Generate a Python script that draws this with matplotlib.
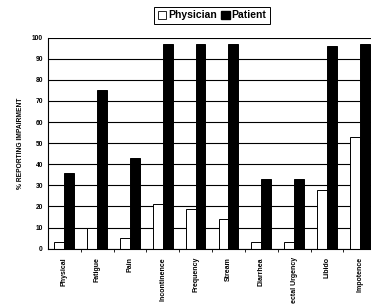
import matplotlib.pyplot as plt
import numpy as np
from matplotlib.patches import Patch

plt.rcParams["font.family"] = ["Liberation Sans", "DejaVu Sans"]

categories = ["Physical", "Fatigue", "Pain", "Incontinence", "Frequency",
              "Stream", "Diarrhea", "Rectal Urgency", "Libido", "Impotence"]
physician = [3, 10, 5, 21, 19, 14, 3, 3, 28, 53]
patient = [36, 75, 43, 97, 97, 97, 33, 33, 96, 97]
yticks = list(range(0, 101, 10))

x = np.arange(len(categories))
w = 0.3

fig = plt.figure(figsize=(3.71, 3.04), dpi=100)
ax = fig.add_axes([0.129, 0.182, 0.885, 0.694])

ax.set_axisbelow(True)
ax.yaxis.grid(True, color="black", linewidth=0.8)
ax.bar(x - w / 2, physician, w, color="white", edgecolor="black", linewidth=0.7)
ax.bar(x + w / 2, patient, w, color="black", edgecolor="black", linewidth=0.7)

ax.set_xlim(-0.5, len(categories) - 0.5)
ax.set_ylim(0, 100)
ax.set_yticks(yticks)
ax.set_yticklabels([str(t) for t in yticks], fontsize=4.8, fontweight="bold")
ax.tick_params(axis="y", length=0, pad=3.5)

ax.set_xticks(x)
ax.set_xticklabels(categories, rotation=90, fontsize=5, fontweight="bold")
ax.tick_params(axis="x", length=0, pad=6)
ax.set_xticks(x + 0.5, minor=True)
ax.tick_params(axis="x", which="minor", length=2, width=0.6)

for s in ["top", "right"]:
    ax.spines[s].set_visible(False)
ax.spines["left"].set_linewidth(0.8)
ax.spines["bottom"].set_linewidth(0.8)

ax.set_ylabel("% REPORTING IMPAIRMENT", fontsize=4.8, fontweight="bold", labelpad=6)

handles = [Patch(facecolor="white", edgecolor="black", linewidth=0.6),
           Patch(facecolor="black", edgecolor="black")]
leg = fig.legend(handles, ["Physician", "Patient"], loc="center",
                 bbox_to_anchor=(0.572, 0.95), ncol=2, fancybox=False,
                 edgecolor="black", framealpha=1, handlelength=0.8,
                 handleheight=0.8, handletextpad=0.2, columnspacing=0.4,
                 borderpad=0.35, prop={"size": 7.5, "weight": "bold"})
leg.get_frame().set_linewidth(0.7)

fig.savefig("out.png", dpi=100)
